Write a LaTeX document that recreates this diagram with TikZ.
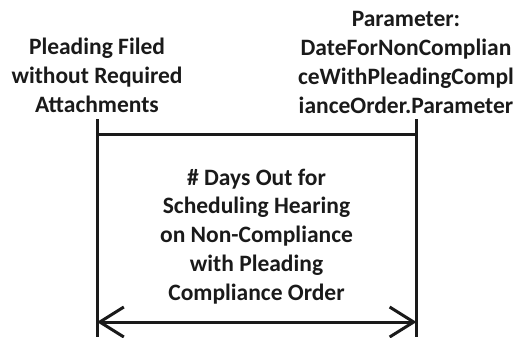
\documentclass[tikz,border=0pt]{standalone}
\usepackage{fontspec}
\setmainfont{Carlito}
\usetikzlibrary{arrows.meta}
\definecolor{ink}{HTML}{1A1A1A}
\tikzset{
  label text/.style={font=\fontsize{23.5}{28.7}\selectfont\bfseries, text=ink,
    align=center, inner sep=0pt, anchor=base},
  bar/.style={draw=ink, line width=3pt},
  barb/.style={Straight Barb[length=24pt,width=30pt,line width=3pt]},
  span/.style={bar, {Straight Barb[length=24pt,width=30pt,line width=3pt]}-{Straight Barb[length=24pt,width=30pt,line width=3pt]}}
}
\begin{document}
\begin{tikzpicture}[x=1pt,y=-1pt]
  \useasboundingbox (0,0) rectangle (521,337);
  % event labels (anchored at the baseline of their last line)
  \node[label text] (start) at (97,112) {Pleading Filed\\without Required\\Attachments};
  \node[label text] (param) at (406,113) {Parameter:\\DateForNonComplian\\ceWithPleadingCompl\\ianceOrder.Parameter};
  % duration description
  \node[label text] (dur) at (256.5,300) {\# Days Out for\\Scheduling Hearing\\on Non-Compliance\\with Pleading\\Compliance Order};
  % timeline ticks
  \coordinate (lt) at (97,119);
  \coordinate (lb) at (97,337);
  \coordinate (rt) at (416.5,119);
  \coordinate (rb) at (416.5,337);
  \coordinate (ln) at (97,134);
  \coordinate (rn) at (416.5,134);
  \coordinate (la) at (97,322);
  \coordinate (ra) at (416.5,322);
  \draw[bar] (lt) -- (lb);
  \draw[bar] (rt) -- (rb);
  \draw[bar] (ln) -- (rn);
  \draw[span] (la) -- (ra);
\end{tikzpicture}
\end{document}
